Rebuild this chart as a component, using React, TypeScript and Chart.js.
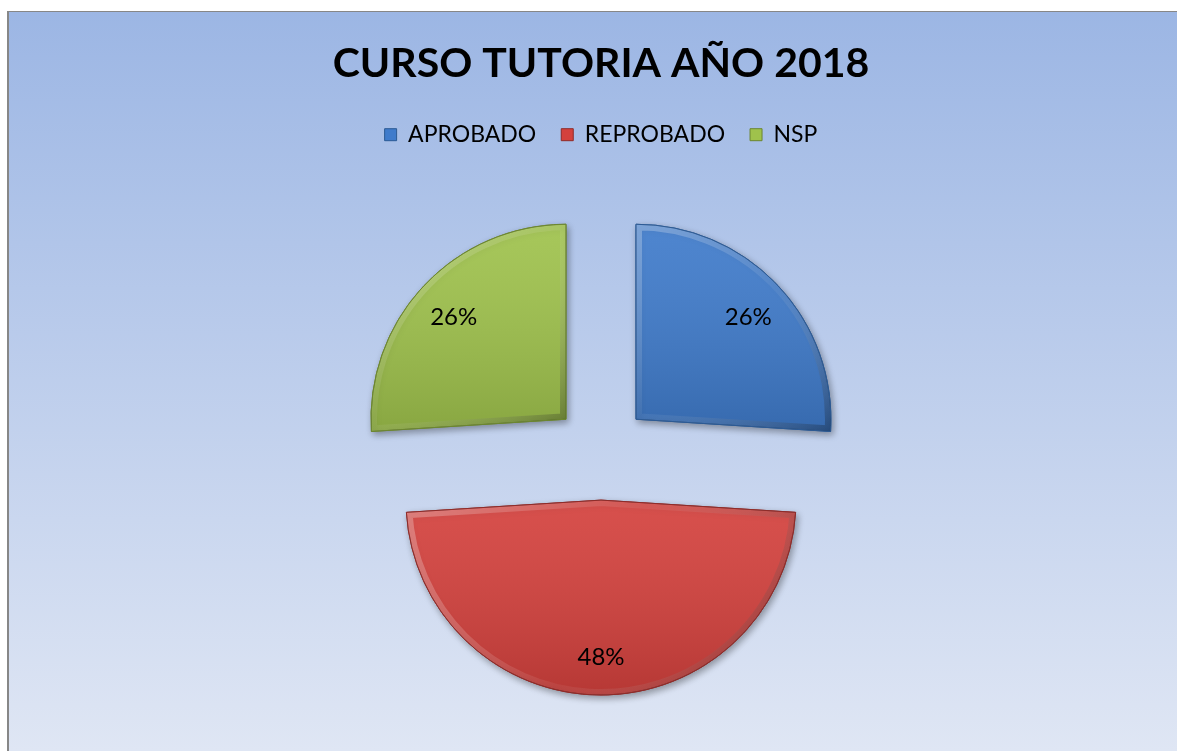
import React, { useEffect, useRef } from "react";
import { Chart, registerables } from "chart.js";

Chart.register(...registerables);

const TITLE = "CURSO TUTORIA AÑO 2018";
const categories = ["APROBADO", "REPROBADO", "NSP"];
const values = [26, 48, 26];
const sliceColors = ["#3f7bcb", "#d4413d", "#9fc24c"];
const borderColors = ["#2c5a94", "#8e2b29", "#6c8630"];

const EXPLODE = 48;
const RADIUS = 195;
const LABEL_POS = 0.79;

function slicePath(ctx: CanvasRenderingContext2D, arc: any) {
  const { x, y, startAngle, endAngle, outerRadius } = arc;
  ctx.beginPath();
  ctx.moveTo(x, y);
  ctx.arc(x, y, outerRadius, startAngle, endAngle);
  ctx.closePath();
}

function sliceBounds(arc: any) {
  const { x, y, startAngle, endAngle, outerRadius } = arc;
  let minX = x, maxX = x, minY = y, maxY = y;
  const n = 60;
  for (let k = 0; k <= n; k++) {
    const a = startAngle + ((endAngle - startAngle) * k) / n;
    const px = x + Math.cos(a) * outerRadius;
    const py = y + Math.sin(a) * outerRadius;
    minX = Math.min(minX, px);
    maxX = Math.max(maxX, px);
    minY = Math.min(minY, py);
    maxY = Math.max(maxY, py);
  }
  return { minX, maxX, minY, maxY };
}

const explodePlugin = {
  id: "explode",
  afterDatasetsUpdate(chart: any) {
    const meta = chart.getDatasetMeta(0);
    meta.data.forEach((arc: any) => {
      const mid = (arc.startAngle + arc.endAngle) / 2;
      arc.x += Math.cos(mid) * EXPLODE;
      arc.y += Math.sin(mid) * EXPLODE;
    });
  },
};

const bevelPlugin = {
  id: "bevel",
  beforeDatasetsDraw(chart: any) {
    const ctx = chart.ctx;
    ctx.save();
    ctx.shadowColor = "rgba(0,0,0,0.35)";
    ctx.shadowBlur = 7;
    ctx.shadowOffsetX = 2;
    ctx.shadowOffsetY = 3;
  },
  afterDatasetsDraw(chart: any) {
    const ctx: CanvasRenderingContext2D = chart.ctx;
    ctx.restore();
    const meta = chart.getDatasetMeta(0);
    const total = values.reduce((a, b) => a + b, 0);
    meta.data.forEach((arc: any, i: number) => {
      const b = sliceBounds(arc);
      ctx.save();
      slicePath(ctx, arc);
      ctx.clip();
      const g = ctx.createLinearGradient(0, b.minY, 0, b.maxY);
      g.addColorStop(0, "rgba(255,255,255,0.08)");
      g.addColorStop(1, "rgba(0,0,0,0.14)");
      ctx.fillStyle = g;
      ctx.fillRect(b.minX - 5, b.minY - 5, b.maxX - b.minX + 10, b.maxY - b.minY + 10);
      const e = ctx.createLinearGradient(b.minX, b.minY, b.maxX, b.maxY);
      e.addColorStop(0, "rgba(255,255,255,0.28)");
      e.addColorStop(0.5, "rgba(255,255,255,0.06)");
      e.addColorStop(1, "rgba(0,0,0,0.28)");
      slicePath(ctx, arc);
      ctx.lineJoin = "round";
      ctx.lineWidth = 12;
      ctx.strokeStyle = e;
      ctx.stroke();
      ctx.restore();

      ctx.save();
      slicePath(ctx, arc);
      ctx.lineWidth = 1;
      ctx.strokeStyle = borderColors[i];
      ctx.stroke();
      ctx.restore();

      const mid = (arc.startAngle + arc.endAngle) / 2;
      const r = arc.outerRadius * LABEL_POS;
      const lx = arc.x + Math.cos(mid) * r;
      const ly = arc.y + Math.sin(mid) * r;
      ctx.save();
      ctx.font = "24px Lato";
      ctx.fillStyle = "#000";
      ctx.textAlign = "center";
      ctx.textBaseline = "middle";
      ctx.fillText(Math.round((values[i] / total) * 100) + "%", lx, ly + 3);
      ctx.restore();
    });
  },
};

export default function App() {
  const ref = useRef<HTMLCanvasElement | null>(null);
  useEffect(() => {
    if (!ref.current) return;
    document.body.style.overflow = "hidden";
    Chart.defaults.font.family = "Lato";
    const chart = new Chart(ref.current, {
      type: "pie",
      data: {
        labels: categories,
        datasets: [
          {
            data: values,
            backgroundColor: sliceColors,
            borderColor: borderColors,
            borderWidth: 1,
          },
        ],
      },
      options: {
        animation: false,
        responsive: true,
        maintainAspectRatio: false,
        radius: RADIUS,
        layout: { padding: { left: 16, top: 0, right: 0, bottom: 3 } },
        plugins: {
          title: {
            display: true,
            text: TITLE,
            color: "#000",
            font: { size: 41, weight: "bold", family: "Lato" },
            padding: { top: 27, bottom: 10 },
          },
          legend: {
            display: true,
            position: "top",
            labels: {
              color: "#000",
              boxWidth: 12,
              boxHeight: 12,
              padding: 25,
              font: { size: 23, family: "Lato" },
            },
          },
          tooltip: { enabled: false },
        },
      } as any,
      plugins: [explodePlugin, bevelPlugin],
    });
    return () => chart.destroy();
  }, []);

  return (
    <div
      style={{
        position: "absolute",
        left: 7,
        top: 11,
        width: 1180,
        height: 740,
        boxSizing: "border-box",
        borderLeft: "2px solid #878787",
        borderTop: "1px solid #878787",
        background: "linear-gradient(to bottom, #9cb6e4, #dfe6f4)",
      }}
    >
      <div style={{ position: "relative", width: 1168, height: "100%" }}>
        <canvas ref={ref} />
      </div>
    </div>
  );
}
